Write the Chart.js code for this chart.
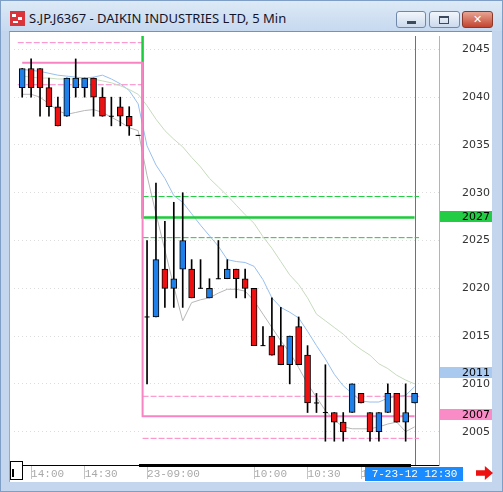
<!DOCTYPE html>
<html>
<head>
<meta charset="utf-8">
<script src="https://cdn.jsdelivr.net/npm/chart.js@4.4.1/dist/chart.umd.min.js"></script>
<style>
  html, body { margin: 0; padding: 0; }
  body { width: 503px; height: 492px; position: relative; overflow: hidden; background: #c3d6ed; font-family: "Noto Sans", sans-serif; }
  .frame { position: absolute; left: 0; top: 0; width: 501px; height: 490px; border: 1px solid #7f9ec6; }
  .titlebar { position: absolute; left: 1px; top: 1px; width: 501px; height: 30px; background: linear-gradient(#dde9f6, #c6d9ef); }
  .title { position: absolute; left: 29px; top: 9px; font-size: 13px; color: #141428; white-space: nowrap; }
  .icon { position: absolute; left: 10px; top: 11px; width: 15px; height: 15px; background: #d9333c; }
  .icon i { position: absolute; background: #fff; }
  .btn { position: absolute; top: 11px; height: 15px; border: 1px solid #6f88ab; border-radius: 3px; background: linear-gradient(#f2f6fb, #cbdaee); }
  .btn.close { background: linear-gradient(#e9a493, #c24530); border-color: #8a3a2c; color: #fff; font: bold 11px "DejaVu Sans", sans-serif; text-align: center; line-height: 15px; }
  .panel { position: absolute; left: 9px; top: 31px; width: 482px; height: 450px; background: #fff; border-top: 1px solid #8e8e8e; border-left: 1px solid #a8a8a8; }
  #c { position: absolute; left: 9px; top: 31px; }
  .scroll { position: absolute; left: 139px; top: 464px; width: 272px; height: 3px; background: #000; }
  .thumb { position: absolute; left: 10px; top: 461px; width: 11px; height: 17px; background: #fff; border: 1px solid #000; }
  .thumb i { position: absolute; left: 1px; top: 7px; width: 2px; height: 8px; background: #000; }
  .arrow { position: absolute; left: 476px; top: 466px; width: 17px; height: 14px; background: #ee1111;
           clip-path: polygon(0 30%, 52% 30%, 52% 0, 100% 50%, 52% 100%, 52% 70%, 0 70%); }
</style>
</head>
<body>
<div class="frame"></div>
<div class="titlebar"></div>
<div class="icon"><i style="left:2px;top:3px;width:4px;height:3px"></i><i style="left:8px;top:6px;width:4px;height:3px"></i><i style="left:3px;top:10px;width:5px;height:2px"></i></div>
<div class="title">S.JP.J6367 - DAIKIN INDUSTRIES LTD, 5 Min</div>
<div class="btn" style="left:396px;width:28px"><div style="position:absolute;left:10px;top:9px;width:9px;height:3px;background:#3c4a5e"></div></div>
<div class="btn" style="left:429px;width:29px"><div style="position:absolute;left:9px;top:4px;width:8px;height:5px;border:1px solid #3c4a5e;border-top-width:2px"></div></div>
<div class="btn close" style="left:462px;width:29px">&#x2715;</div>
<div class="panel"></div>
<canvas id="c" width="483" height="451" style="width:483px;height:451px"></canvas>
<div class="scroll"></div>
<div class="thumb"><i></i></div>
<div class="arrow"></div>

<script>
// 5 min bars: 13:55 .. 15:00 (22 Jul) then 09:00 .. 12:30 (23 Jul)
const opens  = [2041, 2043, 2043, 2041, 2039, 2038, 2041, 2041, 2042, 2040, 2038, 2039, 2038, 2036,
                2017, 2017, 2022, 2020, 2022, 2022, 2020, 2019, 2021, 2021, 2022, 2021, 2020, 2014, 2015, 2014,
                2012, 2016, 2013, 2008, 2007, 2007, 2006, 2007, 2009, 2007, 2005, 2007, 2009, 2006, 2008];
const highs  = [2043, 2044, 2043, 2042, 2040, 2042, 2044, 2042, 2042, 2041, 2040, 2040, 2039, 2036,
                2025, 2031, 2027, 2029, 2030, 2023, 2023, 2021, 2025, 2023, 2022, 2022, 2020, 2016, 2019, 2018,
                2015, 2017, 2014, 2009, 2012, 2007, 2007, 2010, 2009, 2007, 2007, 2010, 2009, 2010, 2009];
const lows   = [2040, 2040, 2038, 2038, 2037, 2038, 2040, 2040, 2038, 2038, 2037, 2037, 2036, 2036,
                2010, 2017, 2018, 2018, 2018, 2019, 2020, 2019, 2021, 2021, 2019, 2019, 2014, 2014, 2013, 2012,
                2010, 2012, 2007, 2007, 2004, 2004, 2004, 2007, 2008, 2004, 2004, 2007, 2006, 2004, 2008];
const closes = [2043, 2041, 2041, 2039, 2037, 2042, 2042, 2042, 2040, 2038, 2038, 2038, 2037, 2036,
                2017, 2023, 2020, 2021, 2025, 2019, 2020, 2020, 2021, 2022, 2021, 2020, 2014, 2014, 2013, 2012,
                2015, 2012, 2008, 2008, 2007, 2006, 2005, 2010, 2008, 2005, 2007, 2009, 2006, 2007, 2009];

// moving averages
const maBlue  = [2042.9, 2042.8, 2042.7, 2042.5, 2042.3, 2042.2, 2042.1, 2042.0, 2042.1, 2042.3, 2041.9, 2041.4, 2040.7, 2039.3,
                 2034.9, 2032.9, 2031.5, 2029.7, 2029.0, 2027.8, 2026.6, 2025.5, 2024.4, 2023.0, 2022.8, 2022.7, 2022.3, 2020.9, 2019.0, 2018.0,
                 2017.5, 2016.9, 2015.5, 2014.0, 2012.6, 2011.0, 2009.8, 2009.0, 2008.2, 2008.1, 2008.1, 2008.5, 2008.7, 2008.8, 2009.7];
const maGray  = [2040.3, 2040.3, 2040.0, 2039.3, 2038.6, 2038.2, 2038.4, 2038.6, 2038.7, 2038.4, 2037.9, 2037.4, 2036.8, 2036.5,
                 2031.8, 2027.8, 2024.0, 2020.2, 2016.6, 2018.5, 2018.8, 2019.0, 2019.5, 2019.9, 2019.9, 2019.7, 2018.7, 2017.3, 2015.9, 2014.5,
                 2013.3, 2011.7, 2010.0, 2008.6, 2007.2, 2006.2, 2005.5, 2005.3, 2005.3, 2005.3, 2005.5, 2005.8, 2006.0, 2005.0, 2005.5];
const maGreen = [2042.2, 2042.1, 2042.0, 2042.0, 2041.9, 2041.9, 2041.9, 2041.9, 2041.9, 2041.7, 2041.5, 2041.2, 2040.8, 2040.3,
                 2039.1, 2037.7, 2036.5, 2035.6, 2034.8, 2033.7, 2032.7, 2031.5, 2030.6, 2029.7, 2028.7, 2027.7, 2026.8, 2025.4, 2024.2, 2022.8,
                 2021.4, 2020.4, 2019.0, 2017.3, 2016.6, 2015.9, 2015.2, 2014.3, 2013.6, 2013.0, 2012.1, 2011.6, 2010.9, 2010.4, 2010.0];

// session levels (day 1 = bars 0-13, day 2 = bars 14-44)
const sessionFirst = [0, 14];
const sessionLast  = [13, 44];
const pinkMid  = [2043.6, 2006.6];
const pinkUp   = [2045.7, 2008.7];
const pinkDn   = [2041.3, 2004.3];
const greenMid = [2049.0, 2027.4];
const greenUp  = [null, 2029.6];
const greenDn  = [null, 2025.3];

const tickBars   = [1, 7, 14, 26, 32, 38];
const tickLabels = ['14:00', '14:30', '23-09:00', '10:00', '10:30', '11:00'];
const cursorBar = 44;
const cursorLabel = '7-23-12 12:30';
const quoteLevel = 2011;

const BLUE = '#1e80e8', RED = '#ee1111';
const idx = opens.map((_, i) => i);
const sessionOf = i => (i >= sessionFirst[1] ? 1 : 0);

const wicks = idx.map(i => ({ x: i, y: [lows[i], highs[i]] }));
const bodyIdx = idx.filter(i => opens[i] !== closes[i]);
const bodies = bodyIdx.map(i => ({ x: i, y: [opens[i], closes[i]] }));
const bodyColors = bodyIdx.map(i => (closes[i] > opens[i] ? BLUE : RED));
const dojis = idx.filter(i => opens[i] === closes[i]).map(i => ({ x: i, y: closes[i] }));

const perBar = level => idx.map(i => ({ x: i, y: level[sessionOf(i)] }));
const band = level => {
  const pts = [];
  level.forEach((v, s) => {
    if (v === null) return;
    pts.push({ x: sessionFirst[s] - 0.5, y: v }, { x: sessionLast[s] + 0.5, y: v }, { x: sessionLast[s] + 0.5, y: null });
  });
  return pts;
};
const series = arr => arr.map((v, i) => ({ x: i, y: v }));

const lineDs = (data, color, width, extra) => Object.assign({
  type: 'line', data, borderColor: color, borderWidth: width, pointRadius: 0, fill: false, order: 5
}, extra || {});

const overlay = {
  id: 'overlay',
  beforeDatasetsDraw(chart) {
    const { ctx, chartArea: a, scales: { x } } = chart;
    const cx = Math.round(x.getPixelForValue(cursorBar)) + 0.5;
    ctx.save();
    ctx.strokeStyle = '#1a86f2';
    ctx.lineWidth = 1;
    ctx.beginPath(); ctx.moveTo(cx, a.top); ctx.lineTo(cx, a.bottom); ctx.stroke();
    ctx.restore();
  },
  afterDraw(chart) {
    const { ctx, chartArea: a, scales: { x, y } } = chart;
    ctx.save();
    ctx.font = '11px "DejaVu Sans"';
    ctx.textAlign = 'right';
    ctx.textBaseline = 'middle';
    [[greenMid[1], '#22cc44'], [quoteLevel, '#a9c9ef'], [pinkMid[1], '#f98bc6']].forEach(([v, c]) => {
      const py = Math.round(y.getPixelForValue(v));
      ctx.fillStyle = c;
      ctx.fillRect(a.right + 1, py - 7, 52, 11);
      ctx.fillStyle = '#000';
      ctx.fillText(String(Math.round(v)), a.right + 51, py - 1);
    });
    const cx = x.getPixelForValue(cursorBar);
    ctx.fillStyle = '#1a8cff';
    ctx.fillRect(Math.round(cx - 50), a.bottom + 2, 98, 14);
    ctx.fillStyle = '#fff';
    ctx.font = '11px "Liberation Mono"';
    ctx.textAlign = 'center';
    ctx.fillText(cursorLabel, cx, a.bottom + 9.5);
    ctx.restore();
  }
};

new Chart(document.getElementById('c'), {
  type: 'bar',
  data: {
    datasets: [
      lineDs(series(maGreen), '#c6dbbd', 1),
      lineDs(series(maGray), '#b7b7b7', 1),
      lineDs(series(maBlue), '#98bfee', 1),
      lineDs(band(pinkUp), '#f984c4', 1, { borderDash: [6, 2] }),
      lineDs(band(pinkDn), '#f984c4', 1, { borderDash: [6, 2] }),
      lineDs(band(greenUp), '#1ccc3c', 1, { borderDash: [6, 2] }),
      lineDs(band(greenDn), '#1ccc3c', 1, { borderDash: [6, 2] }),
      lineDs(perBar(pinkMid), '#f984c4', 2, { stepped: 'middle', order: 4 }),
      lineDs(perBar(greenMid), '#1ccc3c', 2.5, { stepped: 'middle', order: 4 }),
      { data: wicks, backgroundColor: '#000', borderWidth: 0, barThickness: 1, grouped: false, order: 3 },
      { data: bodies, backgroundColor: bodyColors, borderColor: '#000', borderWidth: 1, borderSkipped: false,
        barThickness: 6, grouped: false, order: 2 },
      { type: 'line', data: dojis, showLine: false, pointStyle: 'line', pointRadius: 2.5,
        pointBorderColor: '#000', pointBorderWidth: 1, order: 1 }
    ]
  },
  options: {
    responsive: false,
    animation: false,
    devicePixelRatio: 1,
    layout: { padding: { left: 1, top: 2, right: 2, bottom: 0 } },
    plugins: { legend: { display: false }, tooltip: { enabled: false } },
    scales: {
      x: {
        type: 'linear', min: -0.92, max: 46.74, offset: false,
        afterFit: s => { s.height = 17; s.paddingLeft = 0; s.paddingRight = 0; },
        afterBuildTicks: s => { s.ticks = tickBars.map(v => ({ value: v })); },
        ticks: {
          autoSkip: false, maxRotation: 0, align: 'start', labelOffset: 0, padding: -12,
          color: '#a9a9a9', font: { family: 'Liberation Mono', size: 11 },
          callback: (v, i) => tickLabels[i]
        },
        grid: { drawOnChartArea: false, drawTicks: true, tickLength: 14, tickColor: '#c4c4c4', offset: false },
        border: { color: '#000' }
      },
      y: {
        position: 'right', min: 2001.51, max: 2046.40,
        afterFit: s => { s.width = 51; s.paddingTop = 0; s.paddingBottom = 0; },
        ticks: {
          stepSize: 5, includeBounds: false, crossAlign: 'far', padding: 0,
          color: '#333', font: { family: 'DejaVu Sans', size: 11 },
          callback: v => String(v)
        },
        grid: { color: '#dcdcdc', drawTicks: false },
        border: { color: '#b4b4b4', dash: [1, 3] }
      }
    }
  },
  plugins: [overlay]
});
</script>
</body>
</html>
